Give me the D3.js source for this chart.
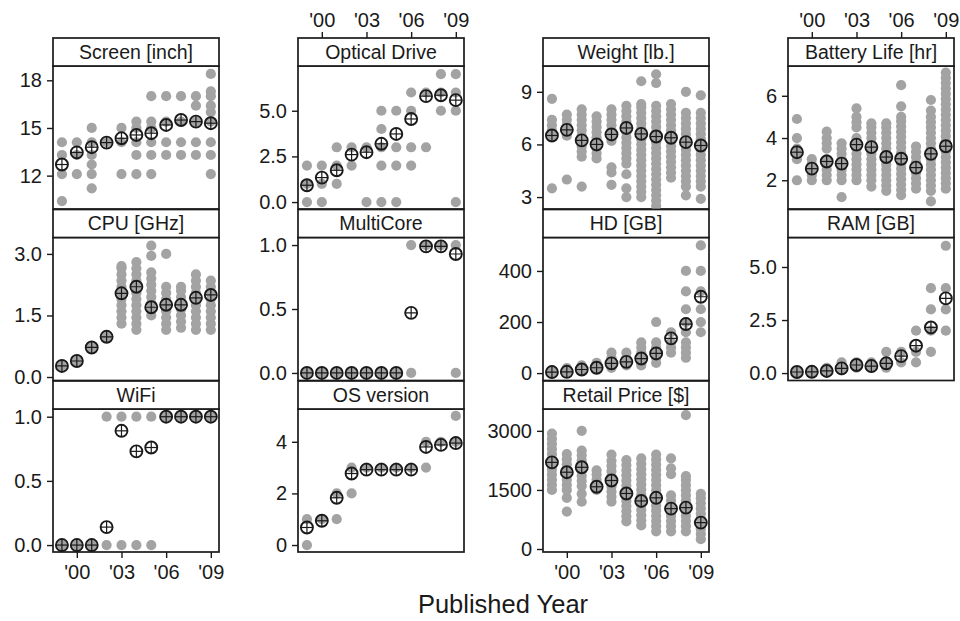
<!DOCTYPE html>
<html>
<head>
<meta charset="utf-8">
<script src="https://cdn.jsdelivr.net/npm/d3@7/dist/d3.min.js"></script>
<style>
  html, body { margin: 0; padding: 0; background: #fff; }
  svg { display: block; font-family: "Liberation Sans", Arial, sans-serif; }
</style>
</head>
<body>
<svg id="chart" width="960" height="621"></svg>
<script>
// ---------------- DATA ----------------
const years = [1999, 2000, 2001, 2002, 2003, 2004, 2005, 2006, 2007, 2008, 2009];
const xTickValues = [2000, 2003, 2006, 2009];
const xTickLabels = ["'00", "'03", "'06", "'09"];
const xLabel = "Published Year";

// Screen [inch]
const screenPts = [
  [10.4, 12.1, 13.3, 14.1], [12.1, 13.3, 14.1], [11.2, 12.1, 12.7, 13.3, 14.1, 15.0],
  [14.1], [12.1, 14.1, 15.0], [12.1, 13.3, 14.1, 15.0, 15.4], [12.1, 13.3, 14.1, 15.0, 15.4, 17.0],
  [13.3, 14.1, 15.4, 17.0], [13.3, 14.1, 15.4, 17.0], [13.3, 14.1, 15.4, 16.4, 17.0],
  [12.1, 13.3, 14.1, 15.4, 16.0, 16.4, 17.0, 17.3, 18.4]
];
const screenMean = [12.7, 13.46, 13.79, 14.08, 14.35, 14.56, 14.67, 15.19, 15.5, 15.4, 15.3];

// Optical Drive
const opticalPts = [
  [0, 1, 2], [0, 1, 2], [1, 2, 3], [2, 3], [0, 3], [0, 2, 3, 4, 5], [0, 2, 3, 5],
  [2, 3, 5, 6], [3, 6], [5, 6, 7], [0, 5, 6, 7]
];
const opticalMean = [0.92, 1.34, 1.74, 2.6, 2.73, 3.19, 3.73, 4.55, 5.8, 5.85, 5.58];

// Weight [lb.]
const weightPts = [
  [3.5, 6.5, 6.8, 7.1, 7.4, 8.6],
  [4.0, 6.5, 6.8, 7.1, 7.4, 7.7],
  [3.6, 5.3, 5.6, 5.9, 6.2, 6.5, 6.8, 7.1, 7.4, 7.7, 8.0],
  [5.2, 5.5, 5.8, 6.1, 6.4, 6.7, 7.0, 7.3, 7.6],
  [3.7, 4.4, 4.7, 6.2, 6.5, 6.8, 7.1, 7.4, 7.7, 8.0],
  [3.0, 3.5, 4.3, 4.9, 5.2, 5.5, 5.8, 6.1, 6.4, 6.7, 7.0, 7.3, 7.6, 7.9, 8.2],
  [3.0, 3.3, 3.6, 3.9, 4.2, 4.5, 4.8, 5.1, 5.4, 5.7, 6.0, 6.3, 6.6, 6.9, 7.2, 7.5, 7.8, 8.1, 8.3, 9.6],
  [2.5, 2.8, 3.1, 3.4, 3.7, 4.0, 4.3, 4.6, 4.9, 5.2, 5.5, 5.8, 6.1, 6.4, 6.7, 7.0, 7.3, 7.6, 7.9, 8.2, 9.5, 10.0],
  [4.1, 4.4, 4.7, 5.0, 5.3, 5.6, 5.9, 6.2, 6.5, 6.8, 7.1, 7.4, 7.7, 8.0, 8.3],
  [3.1, 3.6, 3.9, 4.2, 4.5, 4.8, 5.1, 5.4, 5.7, 6.0, 6.3, 6.6, 6.9, 7.2, 7.5, 7.8, 9.0],
  [2.9, 3.6, 3.9, 4.2, 4.5, 4.8, 5.1, 5.4, 5.7, 6.0, 6.3, 6.6, 6.9, 7.2, 7.5, 7.8, 8.8]
];
const weightMean = [6.51, 6.83, 6.23, 6.0, 6.57, 6.94, 6.6, 6.45, 6.38, 6.13, 5.94];

// Battery Life [hr]
const batteryPts = [
  [2.0, 3.0, 3.25, 3.5, 4.0, 4.9],
  [2.0, 2.25, 2.5, 2.75, 3.0],
  [2.0, 2.25, 2.5, 2.75, 3.0, 3.5, 3.75, 4.0, 4.3],
  [1.2, 2.0, 2.25, 2.5, 2.75, 3.0, 3.25, 3.5, 3.75],
  [2.0, 2.25, 2.5, 2.75, 3.0, 3.25, 3.5, 3.75, 4.0, 4.5, 4.75, 5.0, 5.4],
  [1.7, 2.0, 2.25, 2.5, 2.75, 3.0, 3.25, 3.5, 3.75, 4.0, 4.25, 4.5, 4.7],
  [1.5, 1.75, 2.0, 2.25, 2.5, 2.75, 3.0, 3.25, 3.5, 3.75, 4.0, 4.25, 4.5, 4.7],
  [1.3, 1.55, 1.8, 2.05, 2.3, 2.55, 2.8, 3.05, 3.3, 3.55, 3.8, 4.05, 4.3, 4.55, 4.8, 5.0, 5.5, 6.5],
  [1.6, 1.85, 2.1, 2.35, 2.6, 2.85, 3.1, 3.35, 3.6],
  [1.0, 1.5, 1.75, 2.0, 2.25, 2.5, 2.75, 3.0, 3.25, 3.5, 3.75, 4.0, 4.25, 4.5, 4.75, 5.0, 5.3, 5.8],
  [1.6, 1.85, 2.1, 2.35, 2.6, 2.85, 3.1, 3.35, 3.6, 3.85, 4.1, 4.35, 4.6, 4.85, 5.1, 5.35, 5.6, 5.85, 6.1, 6.35, 6.6, 6.85, 7.1]
];
const batteryMean = [3.33, 2.55, 2.89, 2.79, 3.69, 3.57, 3.1, 3.02, 2.6, 3.25, 3.61];

// CPU [GHz]
const cpuPts = [
  [0.27], [0.39], [0.72], [0.98],
  [1.3, 1.45, 1.6, 1.75, 1.9, 2.05, 2.2, 2.35, 2.5, 2.65, 2.7],
  [1.15, 1.3, 1.45, 1.6, 1.75, 1.9, 2.05, 2.2, 2.35, 2.5, 2.65, 2.8],
  [1.5, 1.65, 1.8, 1.95, 2.1, 2.25, 2.4, 2.55, 2.95, 3.2],
  [1.15, 1.3, 1.45, 1.6, 1.75, 1.9, 2.05, 2.2, 3.0],
  [1.2, 1.35, 1.5, 1.65, 1.8, 1.95, 2.1, 2.2],
  [1.15, 1.3, 1.45, 1.6, 1.75, 1.9, 2.05, 2.2, 2.35, 2.5],
  [1.15, 1.3, 1.45, 1.6, 1.75, 1.9, 2.05, 2.2, 2.35]
];
const cpuMean = [0.27, 0.39, 0.72, 0.98, 2.04, 2.2, 1.7, 1.76, 1.76, 1.93, 2.0];

// MultiCore
const multiPts = [[0], [0], [0], [0], [0], [0], [0], [0, 1], [1], [1], [0, 1]];
const multiMean = [0, 0, 0, 0, 0, 0, 0, 0.47, 0.99, 0.99, 0.93];

// HD [GB]
const hdPts = [
  [3, 6, 10], [5, 10, 20], [10, 20, 30], [15, 20, 30, 40], [20, 30, 40, 60, 80],
  [30, 40, 60, 80], [30, 40, 60, 80, 100, 120], [40, 60, 80, 100, 120, 200],
  [80, 100, 120, 160], [60, 80, 100, 120, 160, 200, 250, 320, 400],
  [160, 200, 250, 320, 400, 500]
];
const hdMean = [4, 5, 14, 21, 38, 44, 57, 77, 136, 192, 299];

// RAM [GB]
const ramPts = [
  [0.03, 0.06], [0.06, 0.13], [0.06, 0.13, 0.25], [0.13, 0.25, 0.5], [0.25, 0.5],
  [0.25, 0.5], [0.25, 0.5, 1.0], [0.5, 1.0], [0.5, 1.0, 2.0], [1.0, 2.0, 3.0, 4.0],
  [2.0, 3.0, 4.0, 6.0]
];
const ramMean = [0.05, 0.06, 0.1, 0.22, 0.38, 0.33, 0.46, 0.8, 1.29, 2.15, 3.52];

// WiFi
const wifiPts = [[0], [0], [0], [0, 1], [0, 1], [0, 1], [0, 1], [1], [1], [1], [1]];
const wifiMean = [0, 0, 0, 0.14, 0.89, 0.73, 0.76, 1, 1, 1, 1];

// OS version
const osPts = [[0, 1], [1], [1, 2], [2, 3], [3], [3], [3], [3], [3, 4], [4], [4, 5]];
const osMean = [0.68, 0.94, 1.83, 2.77, 2.92, 2.92, 2.92, 2.92, 3.8, 3.88, 3.95];

// Retail Price [$]
const pricePts = [
  [1500, 1630, 1760, 1890, 2020, 2150, 2280, 2410, 2540, 2670, 2800, 2930],
  [950, 1300, 1500, 1630, 1760, 1890, 2020, 2150, 2280, 2410],
  [1200, 1400, 1600, 1730, 1860, 1990, 2120, 2250, 2380, 2500, 3000],
  [1500, 1630, 1760, 1890, 2000],
  [1200, 1330, 1460, 1590, 1720, 1850, 1980, 2110, 2240, 2400],
  [700, 830, 960, 1090, 1220, 1350, 1480, 1610, 1740, 1870, 2000, 2130, 2260],
  [600, 730, 860, 990, 1120, 1250, 1380, 1510, 1640, 1770, 1900, 2030, 2160, 2300],
  [450, 580, 710, 840, 970, 1100, 1230, 1360, 1490, 1620, 1750, 1880, 2010, 2140, 2270, 2400],
  [450, 580, 710, 840, 970, 1100, 1230, 1360, 1900, 2050, 2300],
  [450, 580, 710, 840, 970, 1100, 1230, 1360, 1490, 1620, 1750, 1850, 3400],
  [250, 380, 510, 640, 770, 900, 1030, 1160, 1290, 1400]
];
const priceMean = [2200, 1950, 2075, 1580, 1740, 1410, 1220, 1300, 1025, 1050, 670];

// Panel titles and y tick labels
const titles = ["Screen [inch]", "Optical Drive", "Weight [lb.]", "Battery Life [hr]",
  "CPU [GHz]", "MultiCore", "HD [GB]", "RAM [GB]", "WiFi", "OS version", "Retail Price [$]"];
const yTickValues = [
  [12, 15, 18], [0, 2.5, 5], [3, 6, 9], [2, 4, 6],
  [0, 1.5, 3], [0, 0.5, 1], [0, 200, 400], [0, 2.5, 5],
  [0, 0.5, 1], [0, 2, 4], [0, 1500, 3000]
];
const yTickLabels = [
  ["12", "15", "18"], ["0.0", "2.5", "5.0"], ["3", "6", "9"], ["2", "4", "6"],
  ["0.0", "1.5", "3.0"], ["0.0", "0.5", "1.0"], ["0", "200", "400"], ["0.0", "2.5", "5.0"],
  ["0.0", "0.5", "1.0"], ["0", "2", "4"], ["0", "1500", "3000"]
];
const pointSets = [screenPts, opticalPts, weightPts, batteryPts, cpuPts, multiPts, hdPts, ramPts, wifiPts, osPts, pricePts];
const meanSets = [screenMean, opticalMean, weightMean, batteryMean, cpuMean, multiMean, hdMean, ramMean, wifiMean, osMean, priceMean];

// ---------------- LAYOUT ----------------
const yDomains = [
  [9.9, 18.9], [-0.38, 7.45], [2.32, 10.47], [0.64, 7.41],
  [-0.085, 3.4], [-0.059, 1.059], [-29, 531], [-0.35, 6.39],
  [-0.054, 1.06], [-0.27, 5.27], [-76, 3555]
];
const gridPos = [[0,0],[1,0],[2,0],[3,0],[0,1],[1,1],[2,1],[3,1],[0,2],[1,2],[2,2]];
const colLeft = [53, 298, 543, 788];
const panelW = 166;
const rowTop = [38, 209.5, 381];
const stripH = 28;
const panelH = 143;
const topAxisCols = [1, 3];
const bottomAxisCols = [0, 2];

const svg = d3.select("#chart");
const x = d3.scaleLinear().domain([1998.4, 2009.55]).range([0, panelW]);

const GRAY = "#a3a3a3";
const INK = "#1a1a1a";
const FS = 19.5;

titles.forEach((title, i) => {
  const [c, r] = gridPos[i];
  const left = colLeft[c];
  const top = rowTop[r];
  const pTop = top + stripH;
  const g = svg.append("g").attr("transform", `translate(${left},${pTop})`);
  const y = d3.scaleLinear().domain(yDomains[i]).range([panelH, 0]);

  const clipId = "clip" + i;
  svg.append("clipPath").attr("id", clipId)
    .append("rect").attr("x", left).attr("y", pTop).attr("width", panelW).attr("height", panelH);

  // points
  const pts = [];
  pointSets[i].forEach((vals, k) => vals.forEach(v => pts.push({ yr: years[k], v })));
  const plot = svg.append("g").attr("clip-path", `url(#${clipId})`)
    .append("g").attr("transform", `translate(${left},${pTop})`);
  plot.selectAll("circle.pt").data(pts).join("circle")
    .attr("class", "pt")
    .attr("cx", d => x(d.yr)).attr("cy", d => y(d.v)).attr("r", 5.1)
    .attr("fill", GRAY);

  // mean markers
  const means = meanSets[i].map((v, k) => ({ yr: years[k], v }));
  const mk = plot.selectAll("g.mk").data(means).join("g")
    .attr("class", "mk")
    .attr("transform", d => `translate(${x(d.yr)},${y(d.v)})`);
  const R = 6;
  mk.append("circle").attr("r", R).attr("fill", "none").attr("stroke", INK).attr("stroke-width", 1.9);
  mk.append("line").attr("x1", -R).attr("x2", R).attr("stroke", INK).attr("stroke-width", 1.2);
  mk.append("line").attr("y1", -R).attr("y2", R).attr("stroke", INK).attr("stroke-width", 1.2);

  // panel border
  g.append("rect").attr("width", panelW).attr("height", panelH)
    .attr("fill", "none").attr("stroke", INK).attr("stroke-width", 1.7);

  // strip
  const sg = svg.append("g").attr("transform", `translate(${left},${top})`);
  sg.append("rect").attr("width", panelW).attr("height", stripH)
    .attr("fill", "#fff").attr("stroke", INK).attr("stroke-width", 1.7);
  sg.append("text").attr("x", panelW / 2).attr("y", stripH / 2 + 6.8)
    .attr("text-anchor", "middle").attr("font-size", FS).attr("fill", INK).text(title);

  // y axis
  const ya = d3.axisLeft(y).tickValues(yTickValues[i])
    .tickFormat((d, k) => yTickLabels[i][k]).tickSize(6).tickPadding(5);
  const yg = g.append("g").call(ya);
  yg.select(".domain").remove();
  yg.selectAll(".tick line").attr("stroke", INK).attr("stroke-width", 1.4);
  yg.selectAll(".tick text").attr("font-size", FS + 0.5).attr("fill", INK).attr("font-family", "Liberation Sans, Arial, sans-serif");

  // x axes
  if (r === 0 && topAxisCols.includes(c)) {
    const xa = d3.axisTop(x).tickValues(xTickValues).tickFormat((d, k) => xTickLabels[k]).tickSize(6).tickPadding(5);
    const xg = svg.append("g").attr("transform", `translate(${left},${top})`).call(xa);
    xg.select(".domain").remove();
    xg.selectAll(".tick line").attr("stroke", INK).attr("stroke-width", 1.4);
    xg.selectAll(".tick text").attr("font-size", FS + 0.5).attr("fill", INK).attr("font-family", "Liberation Sans, Arial, sans-serif");
  }
  if (r === 2 && bottomAxisCols.includes(c)) {
    const xa = d3.axisBottom(x).tickValues(xTickValues).tickFormat((d, k) => xTickLabels[k]).tickSize(6).tickPadding(7);
    const xg = svg.append("g").attr("transform", `translate(${left},${pTop + panelH})`).call(xa);
    xg.select(".domain").remove();
    xg.selectAll(".tick line").attr("stroke", INK).attr("stroke-width", 1.4);
    xg.selectAll(".tick text").attr("font-size", FS + 0.5).attr("fill", INK).attr("font-family", "Liberation Sans, Arial, sans-serif");
  }
});

svg.append("text").attr("x", 503).attr("y", 613)
  .attr("text-anchor", "middle").attr("font-size", 25.5).attr("fill", INK)
  .text(xLabel);
</script>
</body>
</html>
